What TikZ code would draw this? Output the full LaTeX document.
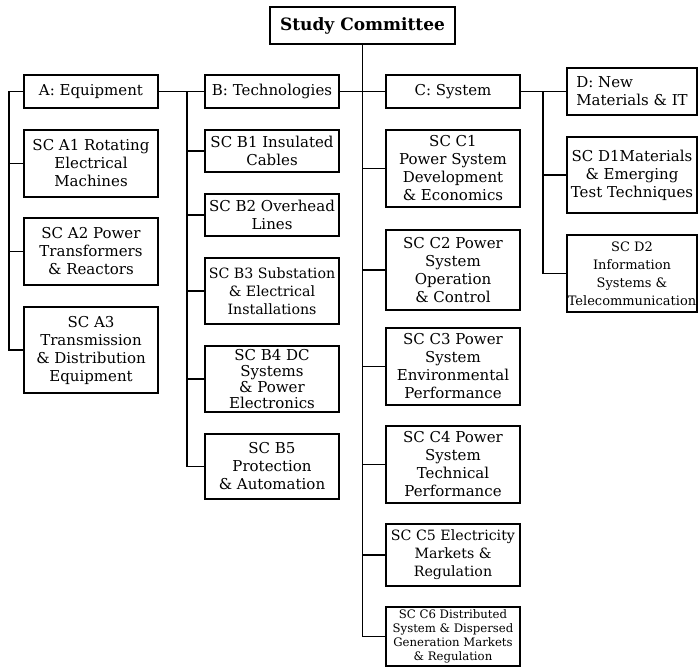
\documentclass[tikz,border=0pt]{standalone}
\usepackage{fontspec}
\setmainfont{DejaVu Serif}
\begin{document}
\begin{tikzpicture}[x=1pt,y=-1pt,
  box/.style={draw, line width=1.5pt, align=center, inner sep=0pt, outer sep=0pt,
    font=\fontsize{15}{18}\selectfont},
  narrow/.style={font=\fontsize{14.2}{18}\selectfont},
  conn/.style={line width=1.5pt}]
\useasboundingbox (0,0) rectangle (698,668);
% top
\node[box, minimum width=185pt, minimum height=37pt, font=\bfseries\fontsize{17}{18}\selectfont] (sc) at (362.5,25.5) {Study Committee};
% group heads
\node[box, minimum width=134pt, minimum height=33pt] (a) at (91,91.5) {A: Equipment};
\node[box, minimum width=134pt, minimum height=33pt] (b) at (272,91.5) {B: Technologies};
\node[box, minimum width=134pt, minimum height=33pt] (c) at (453,91.5) {C: System};
\node[box, minimum width=130pt, minimum height=47pt, align=left, inner xsep=3pt] (d) at (632,91.5) {D: New\\Materials \& IT};
% A
\node[box, minimum width=134pt, minimum height=67pt] (a1) at (91,163.5) {SC A1 Rotating\\Electrical\\Machines};
\node[box, minimum width=134pt, minimum height=67pt] (a2) at (91,251.5) {SC A2 Power\\Transformers\\\& Reactors};
\node[box, minimum width=134pt, minimum height=86pt] (a3) at (91,350) {SC A3\\Transmission\\\& Distribution\\Equipment};
% B
\node[box, minimum width=134pt, minimum height=42pt] (b1) at (272,151) {SC B1 Insulated\\Cables};
\node[box, minimum width=134pt, minimum height=42pt] (b2) at (272,215) {SC B2 Overhead\\Lines};
\node[box, minimum width=134pt, minimum height=66pt, narrow] (b3) at (272,291) {SC B3 Substation\\\& Electrical\\Installations};
\node[box, minimum width=134pt, minimum height=66pt, font=\fontsize{15}{16}\selectfont] (b4) at (272,379) {SC B4 DC\\Systems\\\& Power\\Electronics};
\node[box, minimum width=134pt, minimum height=65pt] (b5) at (272,466.5) {SC B5\\Protection\\\& Automation};
% C
\node[box, minimum width=134pt, minimum height=77pt] (c1) at (453,168.5) {SC C1\\Power System\\Development\\\& Economics};
\node[box, minimum width=134pt, minimum height=80pt] (c2) at (453,270) {SC C2 Power\\System\\Operation\\\& Control};
\node[box, minimum width=134pt, minimum height=77pt] (c3) at (453,366.5) {SC C3 Power\\System\\Environmental\\Performance};
\node[box, minimum width=134pt, minimum height=77pt] (c4) at (453,464.5) {SC C4 Power\\System\\Technical\\Performance};
\node[box, minimum width=134pt, minimum height=62pt, narrow] (c5) at (453,555) {SC C5 Electricity\\Markets \&\\Regulation};
\node[box, minimum width=134pt, minimum height=59pt, font=\fontsize{11.7}{14}\selectfont] (c6) at (453,636.5) {SC C6 Distributed\\System \& Dispersed\\Generation Markets\\\& Regulation};
% D
\node[box, minimum width=130pt, minimum height=76pt] (d1) at (632,175) {SC D1Materials\\\& Emerging\\Test Techniques};
\node[box, minimum width=130pt, minimum height=77pt, font=\fontsize{13}{18}\selectfont] (d2) at (632,273.5) {SC D2\\Information\\Systems \&\\Telecommunication};
% spines
\coordinate (aspine) at (9,0);
\coordinate (bspine) at (187,0);
\coordinate (dspine) at (543,0);
% main line
\draw[conn] (a.east) -- (b.west);
\draw[conn] (b.east) -- (c.west);
\draw[conn] (c.east) -- (d.west);
% A bracket
\draw[conn] (a.west) -- (a.west -| aspine) -- (a3.west -| aspine) -- (a3.west);
\draw[conn] (a1.west) -- (a1.west -| aspine);
\draw[conn] (a2.west) -- (a2.west -| aspine);
% B bracket
\draw[conn] (b.west -| bspine) -- (b5.west -| bspine) -- (b5.west);
\foreach \n in {b1,b2,b3,b4} \draw[conn] (\n.west) -- (\n.west -| bspine);
% C spine
\draw[conn] (sc.south) -- (c6.west -| sc.south) -- (c6.west);
\foreach \n in {c1,c2,c3,c4,c5} \draw[conn] (\n.west) -- (\n.west -| sc.south);
% D bracket
\draw[conn] (d.west -| dspine) -- (d2.west -| dspine) -- (d2.west);
\draw[conn] (d1.west) -- (d1.west -| dspine);
\end{tikzpicture}
\end{document}
